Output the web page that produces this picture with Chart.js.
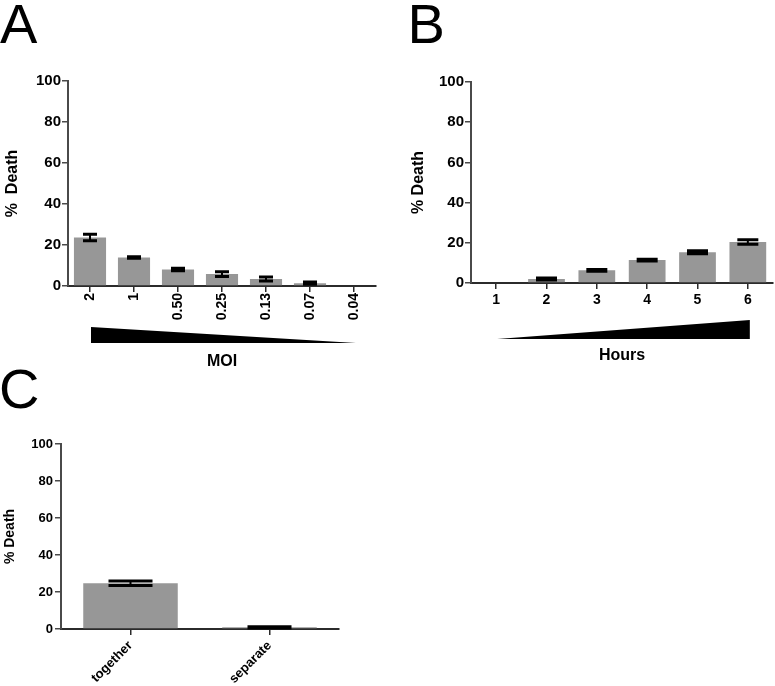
<!DOCTYPE html>
<html>
<head>
<meta charset="utf-8">
<script src="https://cdn.jsdelivr.net/npm/chart.js@4.4.0/dist/chart.umd.min.js"></script>
<style>
  html, body { margin: 0; padding: 0; background: #fff; }
  #wrap { position: relative; width: 775px; height: 686px; overflow: hidden; }
  canvas { position: absolute; }
</style>
</head>
<body>
<div id="wrap">
  <canvas id="chartA" width="390" height="390" style="left:0;top:0;width:390px;height:390px"></canvas>
  <canvas id="chartB" width="385" height="390" style="left:390px;top:0;width:385px;height:390px"></canvas>
  <canvas id="chartC" width="390" height="336" style="left:0;top:350px;width:390px;height:336px"></canvas>
</div>
<script>
// panel A - MOI
const moiLabels = ["2", "1", "0.50", "0.25", "0.13", "0.07", "0.04"];
const moiDeath = [23.7, 13.9, 8.0, 5.8, 3.4, 1.4, 0];
const moiErr = [1.6, 0.4, 0.6, 1.2, 1.0, 0.6, 0];

// panel B - hours
const hourLabels = ["1", "2", "3", "4", "5", "6"];
const hourDeath = [0, 2.0, 6.3, 11.4, 15.3, 20.4];
const hourErr = [0, 0.5, 0.4, 0.4, 0.7, 1.1];

// panel C - together / separate
const condLabels = ["together", "separate"];
const condDeath = [24.7, 0.9];
const condErr = [1.2, 0.3];

const yTicks = [0, 20, 40, 60, 80, 100];

const FONT = "'Liberation Sans', Arial, Helvetica, sans-serif";
Chart.defaults.font.family = FONT;
Chart.defaults.color = "#000";

const barGray = "#979797";
const axisColor = "#2b2b2b";
const yAxisColor = "#4a4a4a";

function errorBars(values, errors, capWidth) {
    return {
        id: "errorBars",
        afterDatasetsDraw(chart) {
            const ctx = chart.ctx;
            const xs = chart.scales.x, ys = chart.scales.y;
            ctx.save();
            ctx.strokeStyle = "#000";
            values.forEach((v, i) => {
                const e = errors[i];
                if (!e) return;
                const px = xs.getPixelForValue(i);
                const top = ys.getPixelForValue(v + e);
                const bot = ys.getPixelForValue(v - e);
                ctx.lineWidth = 2;
                ctx.beginPath();
                ctx.moveTo(px, top);
                ctx.lineTo(px, bot);
                ctx.stroke();
                ctx.lineWidth = 3;
                ctx.beginPath();
                ctx.moveTo(px - capWidth / 2, top);
                ctx.lineTo(px + capWidth / 2, top);
                ctx.moveTo(px - capWidth / 2, bot);
                ctx.lineTo(px + capWidth / 2, bot);
                ctx.stroke();
            });
            ctx.restore();
        }
    };
}

// wedge under the x axis, from first to last category
function wedge(rising, dTop, dBottom) {
    return {
        id: "wedge",
        afterDraw(chart) {
            const ctx = chart.ctx;
            const xs = chart.scales.x;
            const n = chart.data.labels.length;
            const x0 = xs.getPixelForValue(0) + 1;
            const x1 = xs.getPixelForValue(n - 1) + 2;
            const yT = xs.top + dTop, yB = xs.top + dBottom;
            ctx.save();
            ctx.fillStyle = "#000";
            ctx.beginPath();
            if (rising) {
                ctx.moveTo(x0, yB);
                ctx.lineTo(x1, yT);
                ctx.lineTo(x1, yB);
            } else {
                ctx.moveTo(x0, yT);
                ctx.lineTo(x0, yB);
                ctx.lineTo(x1, yB);
            }
            ctx.closePath();
            ctx.fill();
            ctx.restore();
        }
    };
}

function panelLetter(letter, x, y) {
    return {
        id: "panelLetter",
        afterDraw(chart) {
            const ctx = chart.ctx;
            ctx.save();
            ctx.font = "56px " + FONT;
            ctx.fillStyle = "#000";
            ctx.textAlign = "left";
            ctx.textBaseline = "alphabetic";
            ctx.fillText(letter, x, y);
            ctx.restore();
        }
    };
}

function makeChart(id, cfg) {
    const ctx = document.getElementById(id).getContext("2d");
    return new Chart(ctx, {
        type: "bar",
        data: {
            labels: cfg.labels,
            datasets: [{
                data: cfg.values,
                backgroundColor: barGray,
                borderWidth: 0,
                barPercentage: cfg.barPct,
                categoryPercentage: 1
            }]
        },
        options: {
            responsive: false,
            animation: false,
            layout: { padding: cfg.padding },
            plugins: {
                legend: { display: false },
                tooltip: { enabled: false }
            },
            scales: {
                x: {
                    ticks: {
                        autoSkip: false,
                        minRotation: cfg.rotation,
                        maxRotation: cfg.rotation,
                        padding: cfg.xPad,
                        color: "#000",
                        font: { size: cfg.xFont, weight: "bold" }
                    },
                    grid: {
                        drawOnChartArea: false,
                        offset: false,
                        tickLength: 6,
                        color: axisColor,
                        lineWidth: 1.5
                    },
                    border: { color: axisColor, width: 2 },
                    title: {
                        display: !!cfg.xTitle,
                        text: cfg.xTitle || "",
                        color: "#000",
                        font: { size: 16, weight: "bold" },
                        padding: { top: 0, bottom: cfg.xTitlePad || 0 }
                    },
                    afterFit: s => { s.height = cfg.xHeight; }
                },
                y: {
                    min: 0,
                    max: 100,
                    afterBuildTicks: s => { s.ticks = yTicks.map(v => ({ value: v })); },
                    ticks: {
                        padding: cfg.yPad,
                        color: "#000",
                        font: { size: cfg.yFont, weight: "bold" }
                    },
                    grid: {
                        drawOnChartArea: false,
                        tickLength: 6,
                        color: yAxisColor,
                        lineWidth: 1.5
                    },
                    border: { color: yAxisColor, width: 2 },
                    title: {
                        display: true,
                        text: cfg.yTitle,
                        color: "#000",
                        font: { size: cfg.yTitleFont, weight: "bold" },
                        padding: { top: cfg.yTitlePad, bottom: 0 }
                    },
                    afterFit: s => { s.width = cfg.yWidth; }
                }
            }
        },
        plugins: cfg.plugins
    });
}

makeChart("chartA", {
    labels: moiLabels,
    values: moiDeath,
    barPct: 0.73,
    padding: { top: 81, right: 14, left: 0, bottom: 0 },
    rotation: 90, xPad: 1, xFont: 14,
    xTitle: "MOI", xTitlePad: 19, xHeight: 104,
    yPad: 1, yFont: 15, yWidth: 68,
    yTitle: "%  Death", yTitleFont: 16, yTitlePad: 3,
    plugins: [errorBars(moiDeath, moiErr, 14), wedge(false, 41, 57), panelLetter("A", 0, 43)]
});

makeChart("chartB", {
    labels: hourLabels,
    values: hourDeath,
    barPct: 0.73,
    padding: { top: 82, right: 2, left: 0, bottom: 0 },
    rotation: 0, xPad: 3, xFont: 14,
    xTitle: "Hours", xTitlePad: 25, xHeight: 107,
    yPad: 1, yFont: 15, yWidth: 81,
    yTitle: "% Death", yTitleFont: 16, yTitlePad: 19,
    plugins: [errorBars(hourDeath, hourErr, 21), wedge(true, 37, 56), panelLetter("B", 17.6, 43.3)]
});

makeChart("chartC", {
    labels: condLabels,
    values: condDeath,
    barPct: 0.68,
    padding: { top: 94, right: 51, left: 0, bottom: 0 },
    rotation: 45, xPad: 3, xFont: 13,
    xTitle: "", xHeight: 57,
    yPad: 2, yFont: 13, yWidth: 61,
    yTitle: "% Death", yTitleFont: 14, yTitlePad: 2,
    plugins: [errorBars(condDeath, condErr, 44), panelLetter("C", -1, 57.5)]
});
</script>
</body>
</html>
